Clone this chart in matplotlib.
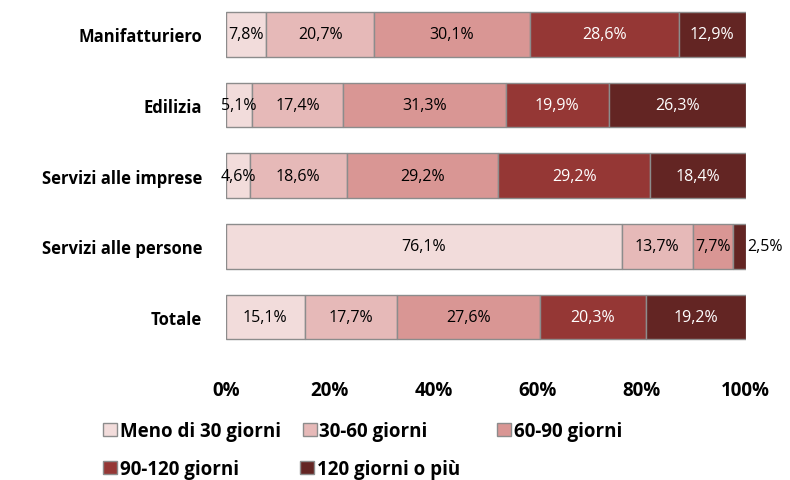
import numpy as np
import matplotlib
matplotlib.use("Agg")
import matplotlib.pyplot as plt
from matplotlib.patches import Patch

plt.rcParams['font.family'] = ['Open Sans', 'DejaVu Sans']

categories = ['Manifatturiero', 'Edilizia', 'Servizi alle imprese',
              'Servizi alle persone', 'Totale']
series = ['Meno di 30 giorni', '30-60 giorni', '60-90 giorni',
          '90-120 giorni', '120 giorni o più']
meno_30 = [7.8, 5.1, 4.6, 76.1, 15.1]
g30_60 = [20.7, 17.4, 18.6, 13.7, 17.7]
g60_90 = [30.1, 31.3, 29.2, 7.7, 27.6]
g90_120 = [28.6, 19.9, 29.2, 0.0, 20.3]
g120_piu = [12.9, 26.3, 18.4, 2.5, 19.2]
tick_labels = ['0%', '20%', '40%', '60%', '80%', '100%']

colors = ['#F2DCDB', '#E6B9B8', '#D99694', '#953735', '#632523']
text_colors = ['black', 'black', 'black', 'white', 'white']

data = np.array([meno_30, g30_60, g60_90, g90_120, g120_piu])
shares = data / data.sum(axis=0) * 100

fig = plt.figure(figsize=(7.9, 4.81), dpi=100)
ax = fig.add_axes([0.286, 0.265, 0.658, 0.735])

y = np.arange(len(categories))[::-1]
left = np.zeros(len(categories))
for i, name in enumerate(series):
    ax.barh(y, shares[i], left=left, height=0.63, color=colors[i],
            edgecolor='#8c8c8c', linewidth=1.0, label=name)
    for j in range(len(categories)):
        v = data[i, j]
        if v <= 0:
            continue
        lbl = f"{v:.1f}%".replace('.', ',')
        if v < 3:
            ax.text(left[j] + shares[i, j] + 0.3, y[j], lbl, ha='left',
                    va='center', fontsize=11.5, color='black')
        else:
            ax.text(left[j] + shares[i, j] / 2, y[j], lbl, ha='center',
                    va='center', fontsize=11.5, color=text_colors[i])
    left += shares[i]

ax.set_xlim(0, 100)
ax.set_ylim(-0.5, 4.5)
ax.set_yticks(y)
ax.set_yticklabels(categories, fontsize=12, fontweight='bold')
ax.set_xticks(np.linspace(0, 100, 6))
ax.set_xticklabels(tick_labels, fontsize=13.5, fontweight='bold')
ax.tick_params(axis='both', length=0)
ax.tick_params(axis='x', pad=20)
ax.tick_params(axis='y', pad=17)
for s in ax.spines.values():
    s.set_visible(False)

# legend entries laid out like the original (two rows, irregular spacing)
positions = [(0.130, 0.102), (0.383, 0.102), (0.629, 0.102),
             (0.130, 0.023), (0.380, 0.023)]
for i, name in enumerate(series):
    h = Patch(facecolor=colors[i], edgecolor='#8c8c8c', linewidth=1.0)
    fig.legend([h], [name], loc='center left', bbox_to_anchor=positions[i],
               frameon=False, handlelength=0.75, handleheight=0.75,
               handletextpad=0.15, borderpad=0, borderaxespad=0,
               prop={'size': 13.5, 'weight': 'bold'})

fig.savefig('out.png', dpi=100)
